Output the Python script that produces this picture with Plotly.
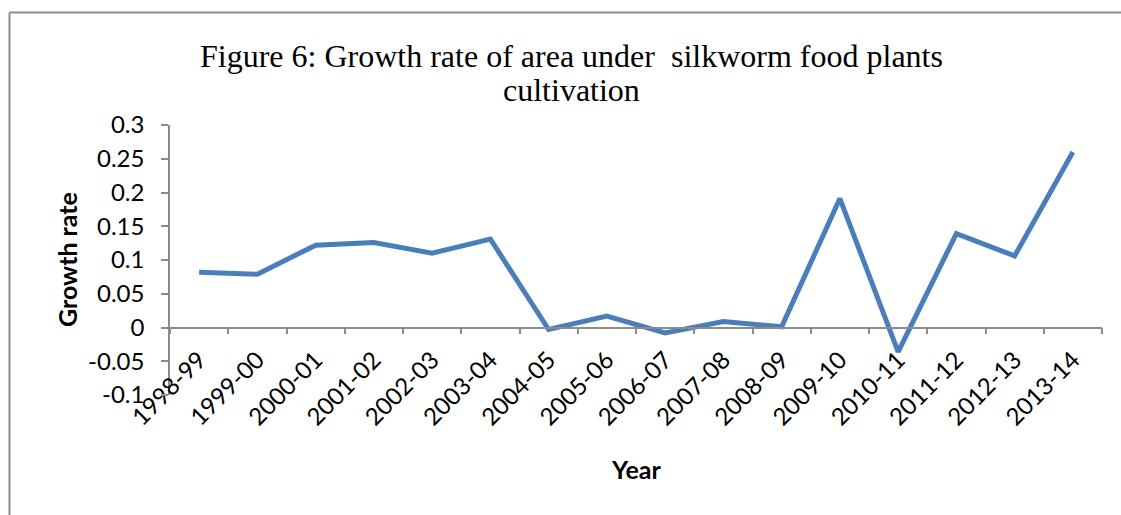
import plotly.graph_objects as go

# Growth rate of area under silkworm food plants, by year
years = ["1998-99", "1999-00", "2000-01", "2001-02", "2002-03", "2003-04",
         "2004-05", "2005-06", "2006-07", "2007-08", "2008-09", "2009-10",
         "2010-11", "2011-12", "2012-13", "2013-14"]
growth_rate = [0.082, 0.079, 0.122, 0.126, 0.110, 0.131,
               -0.003, 0.017, -0.008, 0.009, 0.001, 0.191,
               -0.036, 0.139, 0.106, 0.260]

y_ticks = [-0.1, -0.05, 0, 0.05, 0.1, 0.15, 0.2, 0.25, 0.3]
y_tick_text = ["-0.1", "-0.05", "0", "0.05", "0.1", "0.15", "0.2", "0.25", "0.3"]

title_lines = ["Figure 6: Growth rate of area under  silkworm food plants", "cultivation"]

W, H = 1121, 515
ML, MR, MT, MB = 170, 19, 125, 120
pw, ph = W - ML - MR, H - MT - MB

fig = go.Figure()
fig.add_trace(go.Scatter(
    x=years, y=growth_rate, mode="lines",
    line=dict(color="#4a7ebb", width=5),
    showlegend=False, hoverinfo="x+y",
))

axis_grey = "#8c8c8c"
sans = "Lato, Carlito, sans-serif"
serif = "Liberation Serif, Times New Roman, serif"
tick_font = dict(family=sans, size=24, color="#000000")

def py(pixel_y):
    """Pixel row from the top of the figure -> paper y."""
    return (H - MB - pixel_y) / ph

def px(pixel_x):
    """Pixel column from the left of the figure -> paper x."""
    return (pixel_x - ML) / pw

fig.update_layout(
    width=W, height=H,
    margin=dict(l=ML, r=MR, t=MT, b=MB),
    paper_bgcolor="white", plot_bgcolor="white",
    xaxis=dict(
        type="category", range=[-0.5, len(years) - 0.5],
        anchor="free", position=0.25,
        showline=True, linecolor=axis_grey, linewidth=1.5,
        ticks="outside", tickson="boundaries", ticklen=6,
        tickcolor=axis_grey, tickwidth=1.5,
        tickangle=-45, tickfont=tick_font, ticklabelstandoff=8,
        showgrid=False, zeroline=False,
    ),
    yaxis=dict(
        range=[-0.1, 0.3], tickvals=y_ticks, ticktext=y_tick_text,
        showline=True, linecolor=axis_grey, linewidth=1.5,
        ticks="outside", ticklen=7, tickcolor=axis_grey, tickwidth=1.5,
        ticklabelstandoff=12,
        tickfont=tick_font, showgrid=False, zeroline=False,
    ),
    annotations=[
        dict(text=title_lines[0], x=px(571), y=py(56), xref="paper", yref="paper",
             xanchor="center", yanchor="middle", showarrow=False,
             font=dict(family=serif, size=32, color="#000000")),
        dict(text=title_lines[1], x=px(571), y=py(90), xref="paper", yref="paper",
             xanchor="center", yanchor="middle", showarrow=False,
             font=dict(family=serif, size=32, color="#000000")),
        dict(text="<b>Growth rate</b>", textangle=-90,
             x=px(67), y=py(260), xref="paper", yref="paper",
             xanchor="center", yanchor="middle", showarrow=False,
             font=dict(family=sans, size=25, color="#000000")),
        dict(text="<b>Year</b>",
             x=0.5, y=py(469), xref="paper", yref="paper",
             xanchor="center", yanchor="middle", showarrow=False,
             font=dict(family=sans, size=25, color="#000000")),
    ],
)

# Chart-area frame: top and left edges
fig.add_shape(type="line", xref="paper", yref="paper",
              x0=px(9.5), x1=px(W), y0=py(12.5), y1=py(12.5),
              line=dict(color=axis_grey, width=2))
fig.add_shape(type="line", xref="paper", yref="paper",
              x0=px(9.5), x1=px(9.5), y0=py(12.5), y1=py(H),
              line=dict(color=axis_grey, width=2))

fig.write_html("out.html")
